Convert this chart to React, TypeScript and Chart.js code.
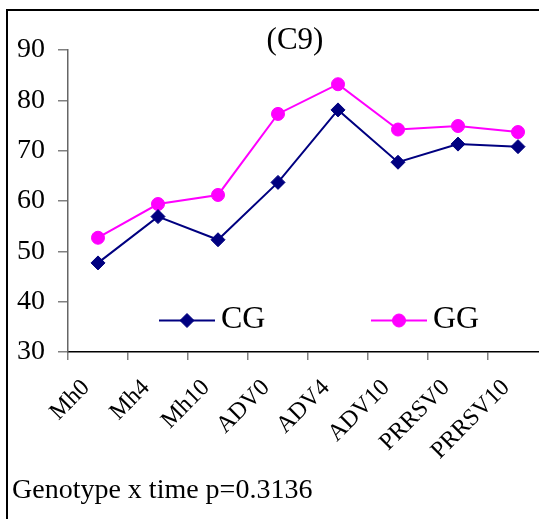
import React, { useEffect, useRef } from 'react';
import { Chart, registerables } from 'chart.js';
import { drawPoint } from 'chart.js/helpers';

Chart.register(...registerables);

const categories = ['Mh0', 'Mh4', 'Mh10', 'ADV0', 'ADV4', 'ADV10', 'PRRSV0', 'PRRSV10'];
const cgValues = [47.7, 56.9, 52.3, 63.7, 78.1, 67.7, 71.3, 70.8];
const ggValues = [52.7, 59.4, 61.2, 77.3, 83.2, 74.2, 74.9, 73.7];
const yTicks = [30, 40, 50, 60, 70, 80, 90];
const seriesNames = ['CG', 'GG'];
const titleText = '(C9)';
const footText = 'Genotype x time p=0.3136';

const FONT = "'Liberation Serif', 'Times New Roman', serif";
const CANVAS_W = 560;
const CANVAS_H = 519;

const legendPos = [
  { x0: 159, x1: 215 },
  { x0: 371, x1: 427 },
];

const decorPlugin = {
  id: 'decor',
  beforeDraw(chart: any) {
    const ctx = chart.ctx;
    ctx.save();
    ctx.fillStyle = '#ffffff';
    ctx.fillRect(0, 0, chart.width, chart.height);
    ctx.fillStyle = '#000000';
    ctx.fillRect(6, 9, chart.width, 2);
    ctx.fillRect(6, 9, 2, chart.height);
    ctx.restore();
  },
  afterDraw(chart: any) {
    const ctx = chart.ctx;
    ctx.save();
    ctx.fillStyle = '#000';
    ctx.textBaseline = 'alphabetic';
    ctx.textAlign = 'center';
    ctx.font = `31px ${FONT}`;
    ctx.fillText(titleText, 295, 48.5);
    ctx.textAlign = 'left';
    ctx.font = `28px ${FONT}`;
    ctx.fillText(footText, 12, 497.5);

    chart.data.datasets.forEach((ds: any, i: number) => {
      const p = legendPos[i];
      const y = 320.5;
      ctx.strokeStyle = ds.borderColor;
      ctx.lineWidth = ds.borderWidth;
      ctx.beginPath();
      ctx.moveTo(p.x0, y);
      ctx.lineTo(p.x1, y);
      ctx.stroke();
      ctx.fillStyle = ds.pointBackgroundColor;
      ctx.strokeStyle = ds.pointBorderColor;
      ctx.lineWidth = ds.pointBorderWidth;
      drawPoint(ctx, { pointStyle: ds.pointStyle, radius: ds.pointRadius, borderWidth: ds.pointBorderWidth, rotation: 0 } as any, (p.x0 + p.x1) / 2, y);
      ctx.fillStyle = '#000';
      ctx.font = `32px ${FONT}`;
      ctx.fillText(ds.label, p.x1 + 6, 328);
    });
    ctx.restore();
  },
};

export default function App() {
  const ref = useRef<HTMLCanvasElement | null>(null);

  useEffect(() => {
    if (!ref.current) return;
    const chart = new Chart(ref.current, {
      type: 'line',
      data: {
        labels: categories,
        datasets: [
          {
            label: seriesNames[0],
            data: cgValues,
            borderColor: '#000080',
            backgroundColor: '#000080',
            borderWidth: 2,
            pointStyle: 'rectRot',
            pointRadius: 7,
            pointBackgroundColor: '#000080',
            pointBorderColor: '#000080',
            pointBorderWidth: 1,
            tension: 0,
          },
          {
            label: seriesNames[1],
            data: ggValues,
            borderColor: '#FF00FF',
            backgroundColor: '#FF00FF',
            borderWidth: 2,
            pointStyle: 'circle',
            pointRadius: 6.5,
            pointBackgroundColor: '#FF00FF',
            pointBorderColor: '#FF00FF',
            pointBorderWidth: 1,
            tension: 0,
          },
        ] as any,
      },
      options: {
        animation: false,
        responsive: false,
        devicePixelRatio: 1,
        events: [],
        layout: { padding: { top: 50, right: CANVAS_W - 548, bottom: 0, left: 0 } },
        plugins: {
          legend: { display: false },
          title: { display: false },
          tooltip: { enabled: false },
        },
        scales: {
          x: {
            type: 'category',
            offset: true,
            grid: {
              offset: true,
              drawOnChartArea: false,
              drawTicks: true,
              tickLength: 8,
              color: '#808080',
              lineWidth: 1.5,
            },
            border: { display: true, color: '#000', width: 1.5 },
            ticks: {
              autoSkip: false,
              maxRotation: 45,
              minRotation: 45,
              padding: 14,
              labelOffset: -12,
              color: '#000',
              font: { family: FONT, size: 24 },
            },
            afterFit(s: any) {
              s.height = 167;
            },
          },
          y: {
            type: 'linear',
            min: 30,
            max: 90,
            afterBuildTicks(s: any) {
              s.ticks = yTicks.map((v) => ({ value: v }));
            },
            grid: {
              drawOnChartArea: false,
              drawTicks: true,
              tickLength: 10,
              color: '#808080',
              lineWidth: 1.5,
            },
            border: { display: true, color: '#666', width: 1.5 },
            ticks: {
              padding: 13,
              color: '#000',
              font: { family: FONT, size: 28 },
            },
            afterFit(s: any) {
              s.width = 68;
            },
          },
        },
      } as any,
      plugins: [decorPlugin],
    });
    return () => chart.destroy();
  }, []);

  return (
    <div
      style={{
        position: 'absolute',
        left: 0,
        top: 0,
        width: 539,
        height: 519,
        overflow: 'hidden',
        background: '#fff',
      }}
    >
      <canvas ref={ref} width={CANVAS_W} height={CANVAS_H} style={{ display: 'block', width: CANVAS_W, height: CANVAS_H }} />
    </div>
  );
}
